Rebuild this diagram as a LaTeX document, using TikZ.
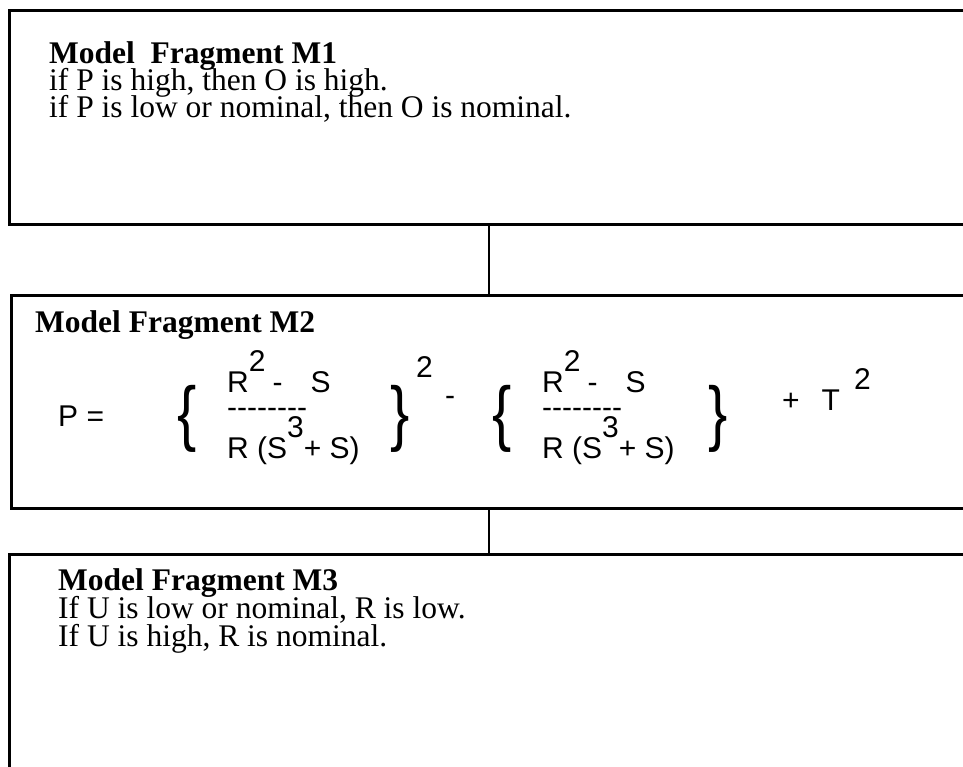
\documentclass[tikz,border=0pt]{standalone}
\usepackage{fontspec}
\usepackage{graphicx}
\setmainfont{Liberation Serif}
\newfontfamily\eqfont{Liberation Sans}
\usetikzlibrary{positioning}
\newcommand{\up}[1]{\raisebox{0.68em}{#1}}
\newcommand{\dashrow}{\foreach \k in {1,...,8}{\hbox{-}}}
\newcommand{\lcurl}{\scalebox{0.8}[1]{\{}}
\newcommand{\rcurl}{\scalebox{0.8}[1]{\}}}

\begin{document}
\begin{tikzpicture}[
  x=1pt, y=-1pt,
  fragbox/.style={draw, line width=3pt, anchor=north west, minimum width=1000pt, inner sep=0pt},
  link/.style={line width=2.5pt},
  title/.style={anchor=base west, inner sep=0pt, font=\fontsize{31.5}{34}\selectfont\bfseries},
  rule/.style={anchor=base west, inner sep=0pt, font=\fontsize{31.5}{34}\selectfont},
  eq/.style={anchor=base west, inner sep=0pt, font=\eqfont\fontsize{30}{32}\selectfont},
  curly/.style={inner sep=0pt, font=\eqfont\fontsize{72}{72}\selectfont}
]
  \useasboundingbox (0,0) rectangle (963,766);
  \clip (0,0) rectangle (963,766);

  \node[fragbox, minimum height=214pt] (M1) at (8,9) {};
  \node[fragbox, minimum height=213pt] (M2) at (10,294) {};
  \node[fragbox, minimum height=240pt] (M3) at (8,553) {};
  \coordinate (mid) at (489,0);
  \draw[link] (M1.south -| mid) -- (M2.north -| mid);
  \draw[link] (M2.south -| mid) -- (M3.north -| mid);

  \node[title] (m1t) at (49,63) {Model\ \ Fragment M1};
  \node[rule] (m1a) at (49,90) {if P is high, then O is high.};
  \node[rule] (m1b) at (49,117) {if P is low or nominal, then O is nominal.};

  \node[title] (m2t) at (35,332) {Model Fragment M2};
  \node[eq] (lhs) at (58,426) {P =};
  \node[curly] (lb1) at (187,419) {\lcurl};
  \node[eq] (num1) at (227,392) {R\up{2}\hspace{7pt}-\hspace{28pt}S};
  \node[eq] (bar1) at (227,417) {\dashrow};
  \node[eq] (den1) at (227,458) {R (S\up{3}+ S)};
  \node[curly] (rb1) at (400,419) {\rcurl};
  \node[eq] (pw1) at (416,377) {2};
  \node[eq] (minus) at (445,405) {-};
  \node[curly] (lb2) at (502,419) {\lcurl};
  \node[eq] (num2) at (542,392) {R\up{2}\hspace{7pt}-\hspace{28pt}S};
  \node[eq] (bar2) at (542,417) {\dashrow};
  \node[eq] (den2) at (542,458) {R (S\up{3}+ S)};
  \node[curly] (rb2) at (718,419) {\rcurl};
  \node[eq] (tsq) at (782,410) {+\hspace{22pt}T\hspace{14pt}\up{2}};

  \node[title] (m3t) at (58,590) {Model Fragment M3};
  \node[rule] (m3a) at (58,618) {If U is low or nominal, R is low.};
  \node[rule] (m3b) at (58,646) {If U is high, R is nominal.};
\end{tikzpicture}
\end{document}
